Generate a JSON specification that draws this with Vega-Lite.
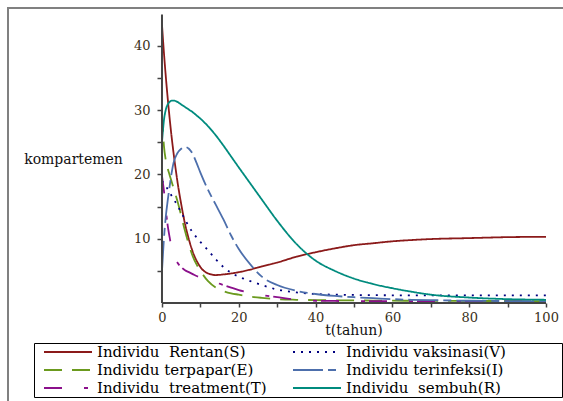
{
  "$schema": "https://vega.github.io/schema/vega-lite/v6.json",
  "width": 560,
  "height": 400,
  "autosize": {"type": "none"},
  "padding": {"left": 8, "top": 8, "right": 0, "bottom": 0},
  "background": "white",
  "config": {
    "view": {"stroke": "#808080", "strokeWidth": 2},
    "axis": {
      "labelFont": "DejaVu Serif", "labelFontSize": 13, "labelColor": "#3a3020",
      "titleFont": "DejaVu Serif", "titleFontSize": 14, "titleFontWeight": "normal", "titleColor": "#111",
      "tickColor": "#444", "tickWidth": 1.5, "grid": false, "domain": false
    }
  },
  "data": {"values": [
    {"t":0,"S":43.3,"V":19.0,"E":29.5,"I":5.0,"T":19.8,"R":25.0},
    {"t":0.5,"S":39.0,"V":18.6,"E":24.5,"I":10.0,"T":17.5,"R":28.4},
    {"t":1,"S":35.2,"V":18.2,"E":22.2,"I":13.5,"T":14.5,"R":30.1},
    {"t":1.5,"S":31.8,"V":17.7,"E":20.9,"I":16.0,"T":12.0,"R":30.9},
    {"t":2,"S":28.7,"V":17.2,"E":19.9,"I":18.2,"T":10.2,"R":31.3},
    {"t":2.5,"S":25.9,"V":16.7,"E":18.9,"I":20.2,"T":8.6,"R":31.5},
    {"t":3,"S":23.4,"V":16.2,"E":17.9,"I":21.8,"T":7.6,"R":31.5},
    {"t":4,"S":19.0,"V":15.2,"E":15.9,"I":23.3,"T":6.3,"R":31.3},
    {"t":5,"S":15.4,"V":14.1,"E":13.6,"I":24.0,"T":5.6,"R":30.9},
    {"t":6,"S":12.3,"V":13.0,"E":11.2,"I":24.3,"T":5.1,"R":30.5},
    {"t":7,"S":9.9,"V":11.9,"E":9.1,"I":24.0,"T":4.8,"R":30.1},
    {"t":8,"S":8.0,"V":11.0,"E":7.3,"I":23.2,"T":4.5,"R":29.7},
    {"t":9,"S":6.6,"V":10.2,"E":6.0,"I":21.8,"T":4.2,"R":29.2},
    {"t":10,"S":5.6,"V":9.5,"E":5.0,"I":20.3,"T":4.0,"R":28.7},
    {"t":12,"S":4.6,"V":8.2,"E":3.4,"I":17.6,"T":3.6,"R":27.5},
    {"t":14,"S":4.35,"V":6.8,"E":2.4,"I":15.3,"T":3.2,"R":26.1},
    {"t":16,"S":4.45,"V":5.6,"E":1.85,"I":13.0,"T":2.8,"R":24.5},
    {"t":18,"S":4.6,"V":4.7,"E":1.5,"I":10.5,"T":2.4,"R":22.8},
    {"t":20,"S":4.8,"V":4.1,"E":1.3,"I":8.4,"T":2.0,"R":21.1},
    {"t":23,"S":5.2,"V":3.4,"E":1.0,"I":6.0,"T":1.6,"R":18.6},
    {"t":26,"S":5.7,"V":2.8,"E":0.8,"I":4.1,"T":1.25,"R":16.1},
    {"t":30,"S":6.3,"V":2.1,"E":0.6,"I":2.8,"T":0.9,"R":12.8},
    {"t":35,"S":7.2,"V":1.65,"E":0.5,"I":1.9,"T":0.5,"R":9.2},
    {"t":40,"S":7.9,"V":1.4,"E":0.45,"I":1.4,"T":0.35,"R":6.6},
    {"t":45,"S":8.5,"V":1.3,"E":0.42,"I":1.1,"T":0.32,"R":5.0},
    {"t":50,"S":9.0,"V":1.25,"E":0.4,"I":0.9,"T":0.3,"R":3.8},
    {"t":55,"S":9.3,"V":1.22,"E":0.38,"I":0.75,"T":0.29,"R":2.95},
    {"t":60,"S":9.6,"V":1.2,"E":0.36,"I":0.6,"T":0.28,"R":2.3},
    {"t":65,"S":9.8,"V":1.2,"E":0.35,"I":0.5,"T":0.27,"R":1.75},
    {"t":70,"S":9.95,"V":1.2,"E":0.34,"I":0.45,"T":0.27,"R":1.3},
    {"t":80,"S":10.1,"V":1.2,"E":0.32,"I":0.35,"T":0.26,"R":0.85},
    {"t":90,"S":10.25,"V":1.2,"E":0.31,"I":0.3,"T":0.25,"R":0.6},
    {"t":100,"S":10.3,"V":1.2,"E":0.3,"I":0.25,"T":0.25,"R":0.5}
  ]},
  "layer": [
    {
      "transform": [{"fold": ["S","E","T","V","I","R"], "as": ["k","v"]}],
      "mark": {"type": "line", "strokeWidth": 1.8, "interpolate": "monotone", "strokeCap": "butt"},
      "encoding": {
        "x": {"field": "t", "type": "quantitative",
          "scale": {"domain": [-40.1, 105.73], "nice": false, "zero": false},
          "axis": {"title": "t(tahun)", "orient": "bottom", "offset": -105,
            "values": [0,10,20,30,40,50,60,70,80,90,100],
            "labelExpr": "datum.value % 20 == 0 ? datum.label : ''",
            "tickSize": 4, "labelPadding": 4, "labelFlush": false,
            "titleX": 345.5, "titleY": 31, "titleAlign": "center", "titleBaseline": "alphabetic"}},
        "y": {"field": "v", "type": "quantitative",
          "scale": {"domain": [-16.34, 45.91], "nice": false, "zero": false},
          "axis": {"title": "kompartemen", "orient": "left", "offset": -154,
            "values": [5,10,15,20,25,30,35,40],
            "labelExpr": "datum.value % 10 == 0 ? datum.label : ''",
            "tickSize": 5, "labelPadding": 7,
            "titleAngle": 0, "titleX": -89, "titleY": 155, "titleAlign": "center", "titleBaseline": "alphabetic"}},
        "color": {"field": "k", "type": "nominal",
          "scale": {"domain": ["S","E","T","V","I","R"],
            "range": ["#8b1a1a","#6b9a1e","#8b108b","#000080","#4d6fac","#008b7e"]},
          "legend": {"orient": "none", "legendX": 26, "legendY": 335, "columns": 2, "title": null,
            "gridAlign": "each",
            "symbolType": "stroke", "symbolSize": 2304, "symbolStrokeWidth": 2, "clipHeight": 16,
            "rowPadding": 2, "columnPadding": 17, "padding": 1, "symbolOffset": 8, "labelOffset": 4,
            "labelFont": "DejaVu Serif", "labelFontSize": 15, "labelColor": "#000", "labelLimit": 400,
            "strokeColor": "#000", "fillColor": "white",
            "labelExpr": "datum.label == 'S' ? 'Individu\u00a0 Rentan(S)' : datum.label == 'V' ? 'Individu vaksinasi(V)\u2800\u2800\u2800\u2800\u2800' : datum.label == 'E' ? 'Individu terpapar(E)' : datum.label == 'I' ? 'Individu terinfeksi(I)' : datum.label == 'T' ? 'Individu\u00a0 treatment(T)' : 'Individu\u00a0 sembuh(R)'"}},
        "strokeDash": {"field": "k", "type": "nominal",
          "scale": {"domain": ["S","E","T","V","I","R"],
            "range": [[1,0],[18,10],[18,22,4,4],[2,6],[30,5,8,5],[1,0]]}}
      }
    },
    {
      "data": {"values": [{}]},
      "mark": {"type": "rule", "color": "#444", "strokeWidth": 2},
      "encoding": {"x": {"datum": 0}, "x2": {"datum": 100}, "y": {"datum": 0}}
    },
    {
      "data": {"values": [{}]},
      "mark": {"type": "rule", "color": "#444", "strokeWidth": 2},
      "encoding": {"x": {"datum": 0}, "y": {"datum": 0}, "y2": {"datum": 44.9}}
    }
  ]
}
